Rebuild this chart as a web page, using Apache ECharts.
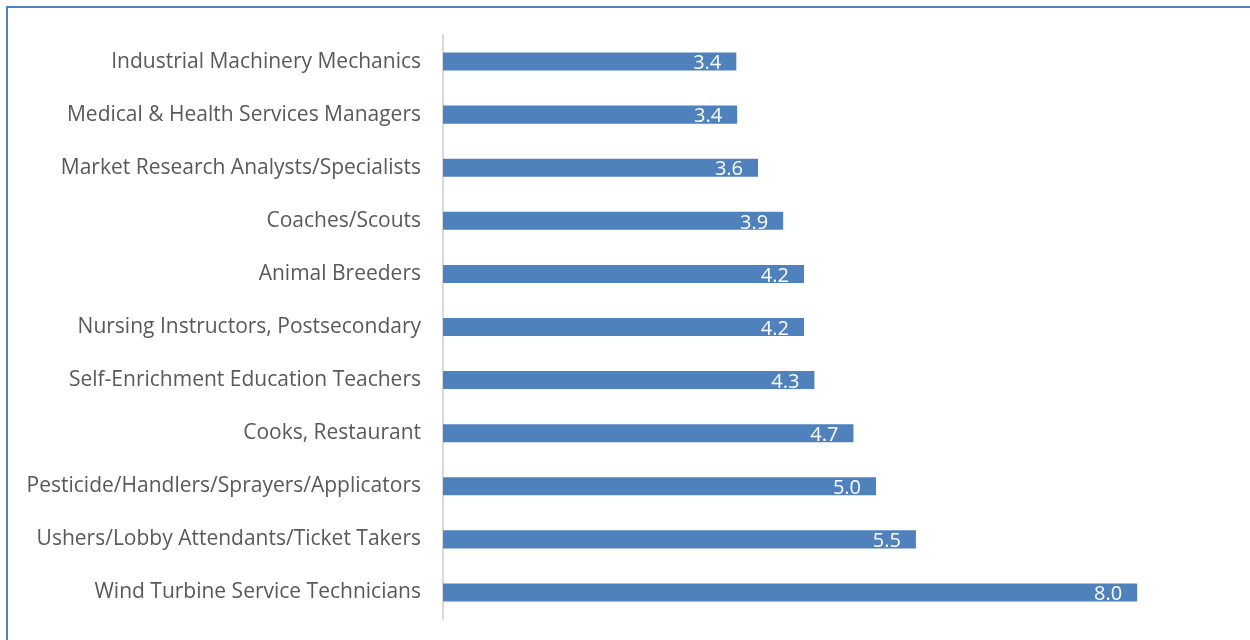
<!DOCTYPE html>
<html>
<head>
<meta charset="utf-8">
<script src="https://cdn.jsdelivr.net/npm/echarts@6/dist/echarts.min.js"></script>
<style>
html, body { margin: 0; padding: 0; background: #fff; }
#frame { position: absolute; left: 6px; top: 6px; width: 1300px; height: 700px; border-left: 2px solid #4f81bd; border-top: 2px solid #4f81bd; }
#chart { position: absolute; left: 0; top: 0; width: 1250px; height: 640px; }
</style>
</head>
<body>
<div id="frame"></div>
<div id="chart"></div>
<script>
// top to bottom as in the picture
const categories = [
    'Industrial Machinery Mechanics',
    'Medical & Health Services Managers',
    'Market Research Analysts/Specialists',
    'Coaches/Scouts',
    'Animal Breeders',
    'Nursing Instructors, Postsecondary',
    'Self-Enrichment Education Teachers',
    'Cooks, Restaurant',
    'Pesticide/Handlers/Sprayers/Applicators',
    'Ushers/Lobby Attendants/Ticket Takers',
    'Wind Turbine Service Technicians'
]
// shown rounded to one decimal
const values = [3.38, 3.39, 3.63, 3.92, 4.16, 4.16, 4.28, 4.73, 4.99, 5.45, 8.0]

const chart = echarts.init(document.getElementById('chart'))
chart.setOption({
    animation: false,
    grid: {
        left: 443,
        right: 26,
        top: 35,
        bottom: 21,
        containLabel: false
    },
    xAxis: {
        type: 'value',
        min: 0,
        max: 9,
        show: false
    },
    yAxis: {
        type: 'category',
        inverse: true,
        data: categories,
        axisLine: { show: true, lineStyle: { color: '#d9d9d9', width: 2 } },
        axisTick: { show: false },
        axisLabel: {
            color: '#595959',
            fontFamily: 'Open Sans',
            fontSize: 21,
            margin: 22,
            padding: [2, 0, 0, 0]
        }
    },
    series: [{
        type: 'bar',
        data: values,
        barWidth: '34%',
        itemStyle: { color: '#4f81bd' },
        label: {
            show: true,
            position: 'insideRight',
            distance: 15,
            offset: [0, 2],
            color: '#fff',
            fontFamily: 'Open Sans',
            fontSize: 20,
            formatter: p => p.value.toFixed(1)
        }
    }]
})
</script>
</body>
</html>
